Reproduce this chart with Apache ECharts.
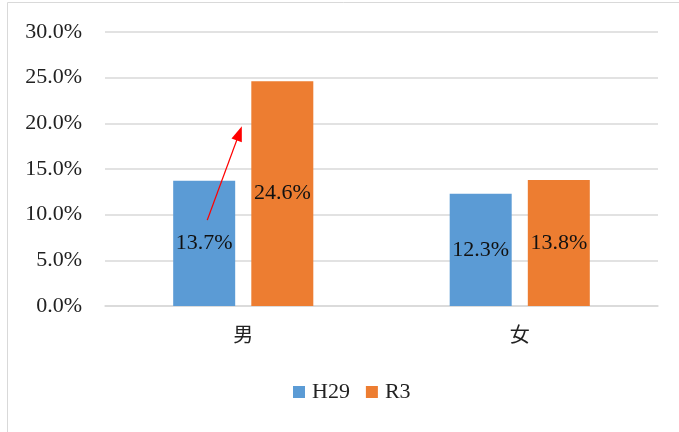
<!DOCTYPE html>
<html>
<head>
<meta charset="utf-8">
<script src="https://cdn.jsdelivr.net/npm/echarts@6/dist/echarts.min.js"></script>
<style>
  html, body { margin: 0; padding: 0; background: #fff; }
  #chart { width: 679px; height: 432px; }
</style>
</head>
<body>
<div id="chart"></div>
<script>
const categories = ['男', '女']
const seriesNames = ['H29', 'R3']
const h29Values = [13.7, 12.3]
const r3Values = [24.6, 13.8]
const yTicks = { min: 0, max: 30, interval: 5 }
// arrow annotation (percent values)
const arrowFrom = 9.4
const arrowTo = 18.9

const fontFamily = "'Liberation Serif', 'Noto Sans CJK JP', serif"
const textColor = '#222'
const gridColor = '#d9d9d9'

const chart = echarts.init(document.getElementById('chart'))

const options = {
  animation: false,
  textStyle: { fontFamily: fontFamily },
  graphic: [
    {
      type: 'rect',
      shape: { x: 7.5, y: 2.5, width: 680, height: 440 },
      style: { fill: 'none', stroke: gridColor, lineWidth: 1 },
      silent: true
    }
  ],
  grid: {
    left: 105,
    right: 21,
    top: 32,
    bottom: 126
  },
  legend: {
    data: seriesNames,
    bottom: 24,
    left: 288,
    itemWidth: 12,
    itemHeight: 12,
    itemGap: 16,
    icon: 'rect',
    textStyle: { fontFamily: fontFamily, fontSize: 22, color: textColor, padding: [0, 0, 0, 2] }
  },
  xAxis: {
    type: 'category',
    data: categories,
    axisTick: { show: false },
    axisLine: { lineStyle: { color: gridColor, width: 1.5 } },
    axisLabel: { fontFamily: fontFamily, fontSize: 20, color: textColor, margin: 21 }
  },
  yAxis: {
    type: 'value',
    min: yTicks.min,
    max: yTicks.max,
    interval: yTicks.interval,
    axisLine: { show: false },
    axisTick: { show: false },
    splitLine: { lineStyle: { color: gridColor, width: 1.5 } },
    axisLabel: {
      fontFamily: fontFamily,
      fontSize: 22,
      color: textColor,
      margin: 23,
      formatter: v => v.toFixed(1) + '%'
    }
  },
  series: [
    {
      name: seriesNames[0],
      type: 'bar',
      data: h29Values,
      barWidth: 62,
      barGap: '26%',
      itemStyle: { color: '#5B9BD5' },
      label: {
        show: true,
        position: 'inside',
        fontFamily: fontFamily,
        fontSize: 22,
        color: '#111',
        formatter: p => p.value.toFixed(1) + '%'
      }
    },
    {
      name: seriesNames[1],
      type: 'bar',
      data: r3Values,
      barWidth: 62,
      itemStyle: { color: '#ED7D31' },
      label: {
        show: true,
        position: 'inside',
        fontFamily: fontFamily,
        fontSize: 22,
        color: '#111',
        formatter: p => p.value.toFixed(1) + '%'
      }
    }
  ]
}
chart.setOption(options)

// red arrow from the H29 bar of 男 pointing up
const base = chart.convertToPixel({ xAxisIndex: 0, yAxisIndex: 0 }, [categories[0], arrowFrom])
const tip = chart.convertToPixel({ xAxisIndex: 0, yAxisIndex: 0 }, [categories[0], arrowTo])
chart.setOption({
  series: [{
    name: seriesNames[0],
    markLine: {
      silent: true,
      symbol: ['none', 'triangle'],
      symbolSize: [11, 15],
      label: { show: false },
      lineStyle: { color: '#ff0000', width: 1.3, type: 'solid' },
      data: [[{ x: base[0] - 36, y: base[1] }, { x: tip[0] - 4, y: tip[1] }]]
    }
  }]
})
</script>
</body>
</html>
